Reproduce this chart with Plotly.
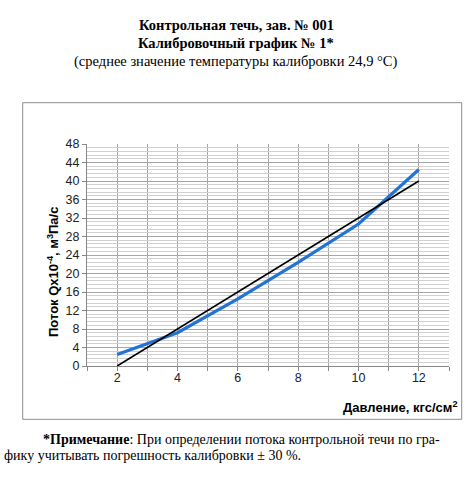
import plotly.graph_objects as go

pressure = [2, 4, 6, 8, 10, 12]
flow_measured = [2.5, 7.2, 14.5, 22.4, 30.7, 42.5]
fit_x = [2, 12]
fit_y = [0.0, 40.0]
x_ticks = [2, 4, 6, 8, 10, 12]
y_ticks = list(range(0, 49, 4))

W, H = 472, 490
L, R, T, B = 87, 23, 144, 124
pw, ph = W - L - R, H - T - B

def px(x):
    return (x - L) / pw

def py(y):
    return (H - B - y) / ph

fig = go.Figure()
fig.add_trace(go.Scatter(x=pressure, y=flow_measured, mode="lines",
                         line=dict(color="#2273d3", width=3.2), showlegend=False))
fig.add_trace(go.Scatter(x=fit_x, y=fit_y, mode="lines",
                         line=dict(color="#000000", width=1.6), showlegend=False))

axis_font = dict(family="Liberation Sans, Arial", size=12.5, color="#222222")
fig.update_xaxes(range=[1, 13], tickmode="array", tickvals=x_ticks,
                 ticktext=[str(v) for v in x_ticks],
                 showgrid=False, zeroline=False,
                 showline=True, linecolor="#888888", linewidth=1,
                 ticks="", tickfont=axis_font,
                 minor=dict(dtick=1, tick0=1, showgrid=True, gridcolor="#a6a6a6",
                            gridwidth=1, ticks="outside", ticklen=4, tickcolor="#888888"))
fig.update_yaxes(range=[0, 48], tickmode="array", tickvals=y_ticks,
                 showgrid=True, gridcolor="#a6a6a6", gridwidth=1, zeroline=False,
                 showline=True, linecolor="#888888", linewidth=1,
                 ticks="outside", ticklen=4, tickcolor="#888888", tickfont=axis_font,
                 minor=dict(dtick=0.8, tick0=0, showgrid=True, gridcolor="#d0d0d0", gridwidth=1))

serif = "Liberation Serif, Times New Roman"
annotations = [
    dict(text="<b>Контрольная течь, зав. № 001</b>", x=px(236), y=py(25), size=14.5, fam=serif, xa="center"),
    dict(text="<b>Калибровочный график № 1*</b>", x=px(236), y=py(43), size=14.5, fam=serif, xa="center"),
    dict(text="(среднее значение температуры калибровки 24,9 °C)", x=px(236), y=py(61), size=14.5, fam=serif, xa="center"),
    dict(text="<b>Давление, кгс/см<sup>2</sup></b>", x=px(459), y=py(407), size=13, fam="Liberation Sans, Arial", xa="right"),
    dict(text="<b>*Примечание</b>: При определении потока контрольной течи по гра-", x=px(241), y=py(439), size=14, fam=serif, xa="center"),
    dict(text="фику учитывать погрешность калибровки ± 30 %.", x=px(152), y=py(455), size=14, fam=serif, xa="center"),
]
for a in annotations:
    fig.add_annotation(text=a["text"], x=a["x"], y=a["y"], xref="paper", yref="paper",
                       xanchor=a["xa"], yanchor="middle", showarrow=False,
                       font=dict(family=a["fam"], size=a["size"], color="#000000"))

fig.add_annotation(text="<b>Поток Qx10<sup>-4</sup>, м<sup>3</sup>Па/с</b>", x=px(53), y=py(272),
                   xref="paper", yref="paper", xanchor="center", yanchor="middle",
                   textangle=-90, showarrow=False,
                   font=dict(family="Liberation Sans, Arial", size=13, color="#000000"))

fig.add_shape(type="rect", xref="paper", yref="paper",
              x0=px(22.7), x1=px(461.7), y0=py(419.3), y1=py(102.7),
              line=dict(color="#8c8c8c", width=1), fillcolor="rgba(0,0,0,0)", layer="below")

fig.update_layout(width=W, height=H, margin=dict(l=L, r=R, t=T, b=B, autoexpand=False),
                  paper_bgcolor="white", plot_bgcolor="white", showlegend=False)

fig.write_html("out.html", config={"displayModeBar": False},
               post_script="document.body.style.margin='0';document.body.style.overflow='hidden';")
